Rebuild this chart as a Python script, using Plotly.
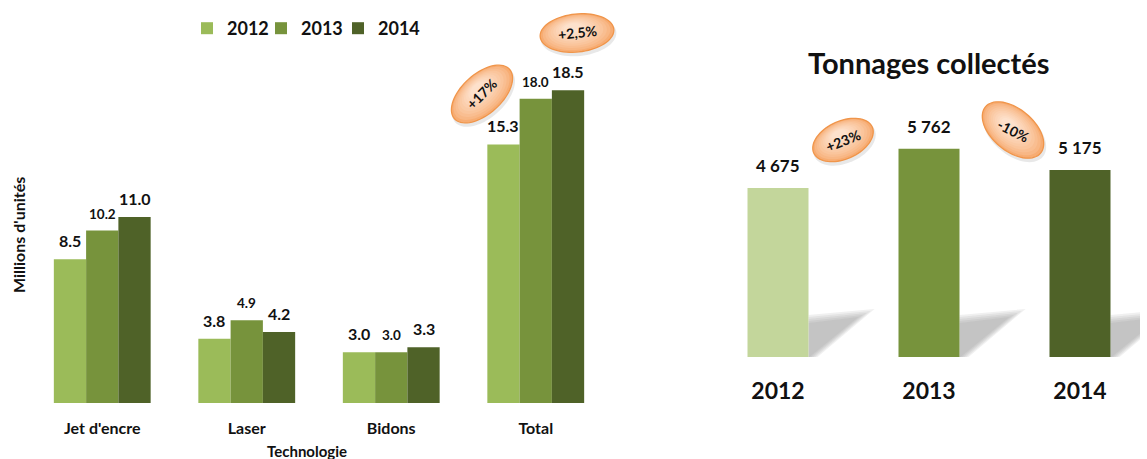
import math
import plotly.graph_objects as go

W, H = 1147, 459

# ---------------- data ----------------
technologies = ["Jet d'encre", "Laser", "Bidons", "Total"]
years = ["2012", "2013", "2014"]
units_2012 = [8.5, 3.8, 3.0, 15.3]
units_2013 = [10.2, 4.9, 3.0, 18.0]
units_2014 = [11.0, 4.2, 3.3, 18.5]
units_growth = ["+17%", "+2,5%"]

tonnage_years = ["2012", "2013", "2014"]
tonnages = [4675, 5762, 5175]
tonnage_labels = ["4 675", "5 762", "5 175"]
tonnage_growth = ["+23%", "-10%"]

# ---------------- style ----------------
FONT = "Lato"
TXT = "#111111"
left_colors = ["#9BBB59", "#77933C", "#4F6228"]
right_colors = ["#C3D69B", "#77933C", "#4F6228"]
label_sizes = [16, 13.5, 16]
legend_x_px = [187, 261, 338]

# left plot geometry (pixels)
L_X0, L_X1 = 30, 608
L_BASE, L_PXU, L_YMAX = 403, 16.9, 22
# right plot geometry (pixels)
R_X0, R_X1 = 710, 1140
R_BASE, R_PXU, R_YMAX = 357, 0.03615, 7000
R_CAT = 151.0
R_XMIN = 1 - (929 - R_X0) / R_CAT
R_XMAX = R_XMIN + (R_X1 - R_X0) / R_CAT
R_BARW = 0.404

BARGAP = 0.33

fig = go.Figure()

series = [units_2012, units_2013, units_2014]
legend_ids = ["legend", "legend2", "legend3"]
for k, (yr, vals) in enumerate(zip(years, series)):
    fig.add_trace(go.Bar(
        x=technologies, y=vals, name=yr, legend=legend_ids[k],
        marker=dict(color=left_colors[k], line=dict(width=0)),
        xaxis="x", yaxis="y", hoverinfo="skip",
    ))

fig.add_trace(go.Bar(
    x=list(range(len(tonnage_years))), y=tonnages, width=R_BARW,
    marker=dict(color=right_colors, line=dict(width=0)),
    xaxis="x2", yaxis="y2", showlegend=False, hoverinfo="skip",
))

annotations = []
# value labels, left chart
bw = (1 - BARGAP) / 3
for k, vals in enumerate(series):
    off = (k - 1) * bw
    for i, v in enumerate(vals):
        annotations.append(dict(
            x=i + off, y=v, xref="x", yref="y", text=f"{v:.1f}",
            showarrow=False, yanchor="bottom", yshift=7,
            font=dict(family=FONT, size=label_sizes[k], color=TXT, weight="bold"),
        ))
# value labels, right chart
for i, (v, t) in enumerate(zip(tonnages, tonnage_labels)):
    annotations.append(dict(
        x=i, y=v, xref="x2", yref="y2", text=t, showarrow=False,
        yanchor="bottom", yshift=10,
        font=dict(family=FONT, size=17, color=TXT, weight="bold"),
    ))

# titles
annotations.append(dict(
    x=928 / W, y=1 - 63 / H, xref="paper", yref="paper", text="Tonnages collectés",
    showarrow=False, xanchor="center", yanchor="middle",
    font=dict(family=FONT, size=29, color=TXT, weight="bold"),
))
annotations.append(dict(
    x=307 / W, y=1 - 451 / H, xref="paper", yref="paper", text="Technologie",
    showarrow=False, xanchor="center", yanchor="middle",
    font=dict(family=FONT, size=15, color=TXT, weight="bold"),
))
annotations.append(dict(
    x=18 / W, y=1 - 235 / H, xref="paper", yref="paper", text="Millions d'unités",
    showarrow=False, xanchor="center", yanchor="middle", textangle=-90,
    font=dict(family=FONT, size=16, color=TXT, weight="bold"),
))

shapes = []

# bar shadows on right chart
def px2dx(p):
    return p / R_CAT

def px2dy(p):
    return p / R_PXU

for i in range(len(tonnages)):
    xr = i + R_BARW / 2
    for g in (-4, -2, 0, 2, 4):
        pts = [(0, 0), (0, 38 + g), (58 + 2 * g, 44 + g), (5 + g, 0)]
        path = "M" + " L".join(f"{xr + px2dx(a):.4f},{px2dy(b):.1f}" for a, b in pts) + " Z"
        shapes.append(dict(type="path", path=path, xref="x2", yref="y2",
                           fillcolor="#8c8c8c", opacity=0.13, line=dict(width=0),
                           layer="below"))

# growth ellipses (pixel centre, semi-axes, tilt, text tilt)
bubbles = [
    (units_growth[0], 482, 94, 37, 20, -42, -45, 14),
    (units_growth[1], 577, 33, 37, 19, -6, -6, 14),
    (tonnage_growth[0], 843, 140, 32, 19, -24, -22, 14),
    (tonnage_growth[1], 1013, 130, 36, 21, 40, 27, 14),
]

def ellipse_path(cx, cy, a, b, ang, n=72):
    th = math.radians(ang)
    pts = []
    for j in range(n):
        t = 2 * math.pi * j / n
        px = cx + a * math.cos(t) * math.cos(th) - b * math.sin(t) * math.sin(th)
        py = cy + a * math.cos(t) * math.sin(th) + b * math.sin(t) * math.cos(th)
        pts.append(f"{px / W:.5f},{1 - py / H:.5f}")
    return "M" + " L".join(pts) + " Z"

def mix(c1, c2, t):
    a = [int(c1[i:i + 2], 16) for i in (1, 3, 5)]
    b = [int(c2[i:i + 2], 16) for i in (1, 3, 5)]
    return "#" + "".join(f"{round(a[j] + (b[j] - a[j]) * t):02x}" for j in range(3))

EDGE, CENTER = "#F7AC72", "#FDE1CC"
NL = 10
for text, cx, cy, a, b, ang, tang, fs in bubbles:
    shapes.append(dict(type="path", path=ellipse_path(cx + 1.5, cy + 3, a + 1, b + 1, ang),
                       xref="paper", yref="paper", fillcolor="rgba(0,0,0,0.09)",
                       line=dict(width=0), layer="above"))
    for idx in range(NL):
        f = idx / (NL - 1)
        s = 1 - 0.75 * f
        col = mix(EDGE, CENTER, f ** 0.7)
        ocx = cx - f * 4
        ocy = cy - f * 5
        shapes.append(dict(type="path",
                           path=ellipse_path(ocx, ocy, a * s, b * s, ang),
                           xref="paper", yref="paper", fillcolor=col,
                           line=dict(width=1.3 if idx == 0 else 0, color="#F0954A"),
                           layer="above"))
    annotations.append(dict(
        x=cx / W, y=1 - cy / H, xref="paper", yref="paper", text=text,
        showarrow=False, textangle=tang, xanchor="center", yanchor="middle",
        font=dict(family=FONT, size=fs, color=TXT, weight="bold"),
    ))

legend_common = dict(orientation="h", y=1 - 10 / H, xanchor="left", yanchor="top",
                     font=dict(family=FONT, size=18, color=TXT, weight="bold"),
                     bgcolor="rgba(0,0,0,0)", itemwidth=30)

fig.update_layout(
    width=W, height=H, autosize=False,
    margin=dict(l=0, r=0, t=0, b=0),
    paper_bgcolor="white", plot_bgcolor="rgba(0,0,0,0)",
    barmode="group", bargap=BARGAP, bargroupgap=0,
    font=dict(family=FONT, color=TXT),
    showlegend=True,
    legend=dict(x=legend_x_px[0] / W, **legend_common),
    legend2=dict(x=legend_x_px[1] / W, **legend_common),
    legend3=dict(x=legend_x_px[2] / W, **legend_common),
    xaxis=dict(domain=[L_X0 / W, L_X1 / W], type="category", showgrid=False,
               zeroline=False, showline=False, ticks="", ticklabelstandoff=14,
               tickfont=dict(family=FONT, size=16, color=TXT, weight="bold"),
               fixedrange=True),
    yaxis=dict(domain=[1 - L_BASE / H, 1 - L_BASE / H + L_YMAX * L_PXU / H],
               range=[0, L_YMAX], visible=False, fixedrange=True),
    xaxis2=dict(domain=[R_X0 / W, R_X1 / W], range=[R_XMIN, R_XMAX], anchor="y2",
                tickvals=list(range(len(tonnage_years))), ticktext=tonnage_years,
                showgrid=False, zeroline=False, showline=False, ticks="",
                ticklabelstandoff=18,
                tickfont=dict(family=FONT, size=23, color=TXT, weight="bold"),
                fixedrange=True),
    yaxis2=dict(domain=[1 - R_BASE / H, 1 - R_BASE / H + R_YMAX * R_PXU / H],
                range=[0, R_YMAX], visible=False, anchor="x2", fixedrange=True),
    annotations=annotations,
    shapes=shapes,
)

fig.write_html(
    "out.html",
    config={"displayModeBar": False},
    post_script="document.body.style.margin='0px';document.body.style.overflow='hidden';",
)
